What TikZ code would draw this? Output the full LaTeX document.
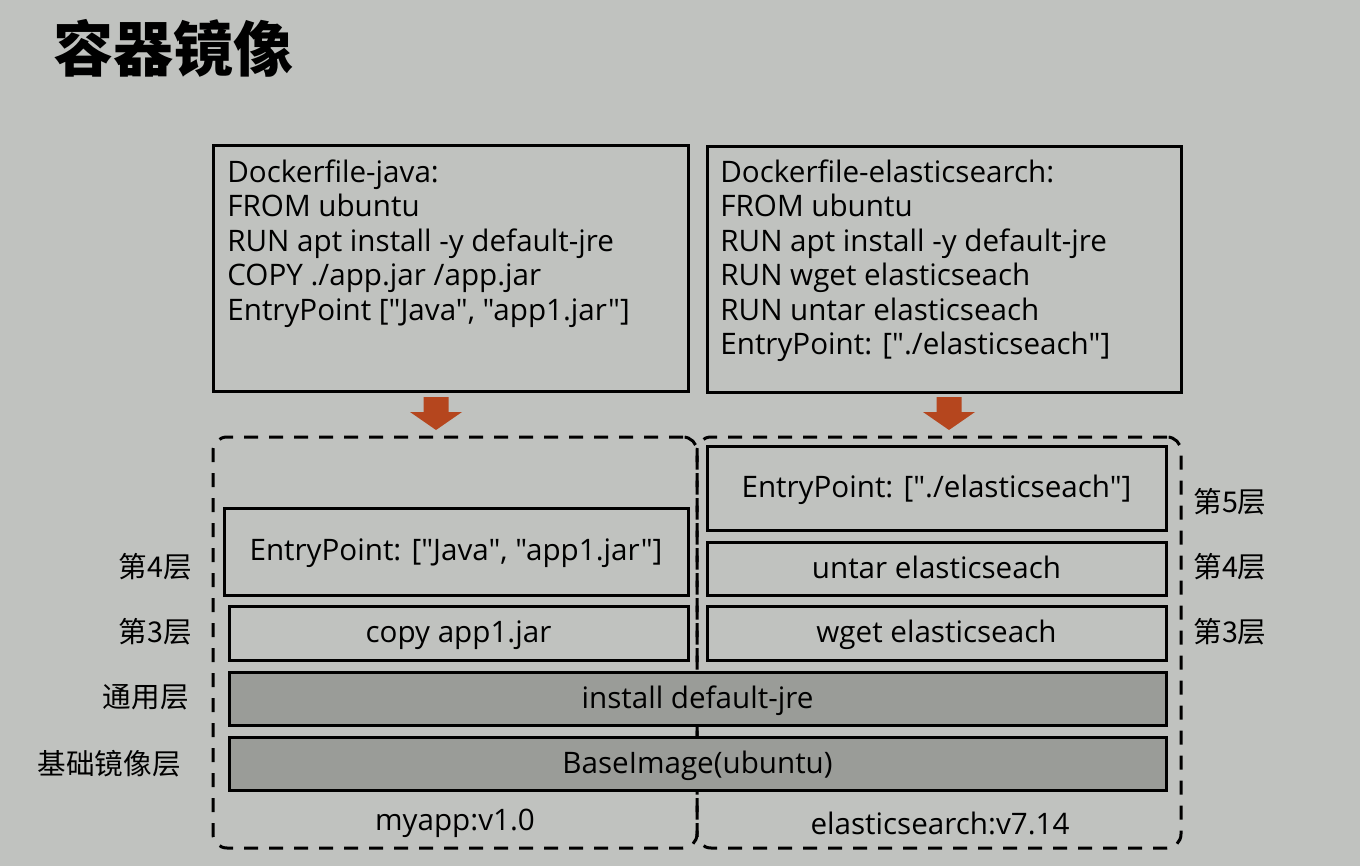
\documentclass[tikz,border=0pt]{standalone}
\usepackage{fontspec}
\setmainfont{Open Sans}[Ligatures=TeXOff]
\newfontfamily\cjk{Noto Sans CJK SC}
\definecolor{bgc}{RGB}{192,194,191}
\definecolor{layerc}{RGB}{154,156,152}
\definecolor{arrowc}{RGB}{181,70,30}
\begin{document}
\begin{tikzpicture}
[x=0.5pt, y=-0.5pt,
 nodes={inner sep=0pt, font=\fontsize{14.8pt}{17.25pt}\selectfont},
 box/.style={draw=black, line width=1.5pt, text depth=1.5pt},
 layer/.style={box, fill=layerc},
 image/.style={draw=black, line width=1.5pt, dash pattern=on 7pt off 5.5pt, rounded corners=7pt},
 tag/.style={font=\cjk\fontsize{14.3pt}{14.3pt}\selectfont}]
\fill[bgc] (0,0) rectangle (1360,866);

\node[anchor=west, font=\cjk\bfseries\fontsize{30pt}{30pt}\selectfont] (title) at (53,48) {容器镜像};

% Dockerfiles
\node[box, minimum width=237.5pt, minimum height=122.5pt] (DJ) at (450.5,268.5) {};
\node[box, minimum width=237pt, minimum height=122.5pt] (DE) at (944,269.5) {};
\node[anchor=north west, align=left] (DJtext) at (227,159) {Dockerfile-java:\\FROM ubuntu\\RUN apt install -y default-jre\\COPY ./app.jar /app.jar\\EntryPoint ["Java", "app1.jar"]};
\node[anchor=north west, align=left] (DEtext) at (720,159) {Dockerfile-elasticsearch:\\FROM ubuntu\\RUN apt install -y default-jre\\RUN wget elasticseach\\RUN untar elasticseach\\EntryPoint: ["./elasticseach"]};

% build arrows
\foreach \ax in {436,949}
  \fill[arrowc] (\ax,397) ++(-12.5,0) -- ++(25,0) -- ++(0,15) -- ++(13.5,0)
    -- (\ax,430) -- (\ax-26,412) -- ++(13.5,0) -- cycle;

% images
\node[image, minimum width=242pt, minimum height=205.5pt] (LJ) at (455,642.5) {};
\node[image, minimum width=242pt, minimum height=205.5pt] (LE) at (939,642.5) {};

% layers
\node[box, minimum width=232pt, minimum height=43.5pt] (EJ) at (456,551.5) {EntryPoint: ["Java", "app1.jar"]};
\node[box, minimum width=229.5pt, minimum height=27pt] (CJ) at (458.5,633) {copy app1.jar};
\node[box, minimum width=229.5pt, minimum height=42pt] (EE) at (936.5,488) {EntryPoint: ["./elasticseach"]};
\node[box, minimum width=229.5pt, minimum height=26.5pt] (UE) at (936.5,568.5) {untar elasticseach};
\node[box, minimum width=229.5pt, minimum height=27pt] (WE) at (936.5,633) {wget elasticseach};
\node[layer, minimum width=468.5pt, minimum height=26.5pt] (JRE) at (697.5,698.5) {install default-jre};
\node[layer, minimum width=468.5pt, minimum height=26.5pt] (BI) at (697.5,763.5) {BaseImage(ubuntu)};

% layer tags
\node[tag, anchor=east] (L4) at (192,567) {第4层};
\node[tag, anchor=east] (L3) at (192,632) {第3层};
\node[tag, anchor=east] (LC) at (189,697) {通用层};
\node[tag, anchor=east] (LB) at (181,764) {基础镜像层};
\node[tag, anchor=west] (R5) at (1193,502) {第5层};
\node[tag, anchor=west] (R4) at (1193,567) {第4层};
\node[tag, anchor=west] (R3) at (1193,632) {第3层};

\node (myapp) at (455,823) {myapp:v1.0};
\node (es) at (940,823) {elasticsearch:v7.14};
\end{tikzpicture}
\end{document}
